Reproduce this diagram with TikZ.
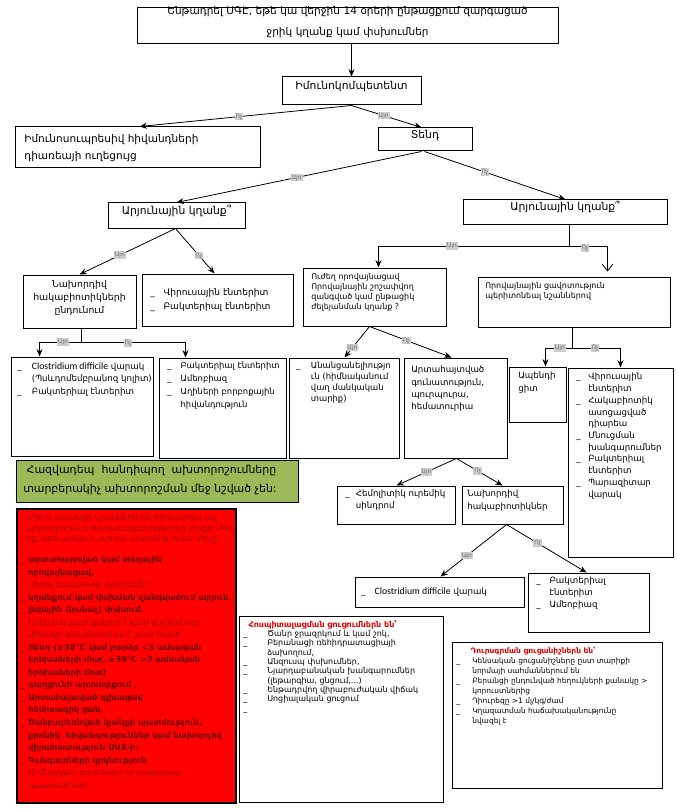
\documentclass[tikz,border=0pt]{standalone}
\usepackage{fontspec}
\setmainfont{DejaVu Sans}
\newfontfamily\latf{Carlito}
\usetikzlibrary{arrows.meta,fit}
\definecolor{rtxt}{HTML}{A00000}
\definecolor{rbold}{HTML}{6E0000}
\definecolor{hred}{HTML}{E00000}
\definecolor{grn}{HTML}{9BBB59}
\definecolor{redbox}{HTML}{FF0000}
\newcommand\fsz[2]{\fontsize{#1}{#2}\selectfont}
\newcommand\bu[1]{\makebox[#1][l]{\_}}
\newcommand\ind[1]{\hspace*{#1}}
\begin{document}
\begin{tikzpicture}[x=0.75pt,y=-0.75pt,
 bx/.style={draw, line width=0.75pt, inner sep=0pt},
 arr/.style={-{Stealth[length=5.5pt,width=4.5pt]}, line width=0.6pt},
 oarr/.style={-{Straight Barb[length=5pt,width=8pt]}, line width=0.6pt},
 lbl/.style={fill=black!20, text=black!55, font=\fsz{4.5}{5}, inner sep=0.7pt},
 txt/.style={anchor=north west, inner sep=0pt, align=left},
]
\useasboundingbox (0,0) rectangle (676,809);

% ---------- boxes ----------
\node[bx, fit={(137,8) (558,44)}, align=center, font=\fsz{7.9}{15.5}] (top)
  {Ենթադրել ՍԳԷ, եթե կա վերջին 14 օրերի ընթացքում զարգացած\\ջրիկ կղանք կամ փսխումներ};
\node[bx, fit={(282,77) (421,105)}, font=\fsz{8.1}{10}] (imm) {Իմունոկոմպետենտ};
\node[bx, fit={(15,127) (260,168)}] (immsup) {};
\node[txt, font=\fsz{7.9}{13}] (immsupt) at (24,134) {Իմունոսուպրեսիվ հիվանդների\\դիառեայի ուղեցույց};
\node[bx, fit={(378,128) (472,151)}, font=\fsz{8.1}{10}] (tend) {Տենդ};
\node[bx, fit={(108,203) (245,228)}, font=\fsz{8.1}{10}] (arjL) {Արյունային կղանք՞};
\node[bx, fit={(463,200) (667,224)}, font=\fsz{8.1}{10}] (arjR) {Արյունային կղանք՞};

\node[bx, fit={(23,275) (136,328)}, align=center, font=\fsz{7}{9.6}] (nax) {Նախորդիվ\\հակաբիոտիկների\\ընդունում};
\node[bx, fit={(142,274) (293,326)}] (vir) {};
\node[txt, anchor=west, font=\fsz{6.8}{10}] (virt) at (150,300) {\bu{10pt}Վիրուսային էնտերիտ\\\bu{10pt}Բակտերիալ էնտերիտ};

\node[bx, fit={(303,268) (446,326)}] (ujeh) {};
\node[txt, font=\fsz{6}{7.6}] (ujeht) at (311,273) {Ուժեղ որովայնացավ\\Որովայնային շոշափվող\\զանգված կամ ընթացիկ\\ժելեյանման կղանք ?};

\node[bx, fit={(478,277) (670,327)}] (orov) {};
\node[txt, font=\fsz{6}{7.4}] (orovt) at (485,282) {Որովայնային ցավոտություն\\պերիտոնեալ նշաններով};

\node[bx, fit={(11,357) (153,456)}] (c1) {};
\node[txt, font=\fsz{6.5}{9.6}] (c1t) at (17,362) {\bu{11pt}{\latf\fontsize{7.3}{9.6}\selectfont Clostridium difficile} վարակ\\\ind{11pt}(Պսևդոմեմբրանոզ կոլիտ)\\\bu{11pt}Բակտերիալ էնտերիտ};

\node[bx, fit={(159,358) (286,458)}] (c2) {};
\node[txt, font=\fsz{6.3}{9.8}] (c2t) at (167,362) {\bu{10pt}Բակտերիալ էնտերիտ\\\bu{10pt}Ամեոբիազ\\\bu{10pt}Աղիների բորբոքային\\\ind{10pt}հիվանդություն};

\node[bx, fit={(289,358) (399,458)}] (anan) {};
\node[txt, font=\fsz{6.3}{8.3}] (anant) at (296,362) {\bu{11pt}Անանցանելիությո\\\ind{11pt}ւն (հիմնականում\\\ind{11pt}վաղ մանկական\\\ind{11pt}տարիք)};

\node[bx, fit={(404,358) (507,458)}] (artah) {};
\node[txt, font=\fsz{6.5}{9.2}] (artaht) at (411,366) {Արտահայտված\\գունատություն,\\պուրպուրա,\\հեմատուրիա};

\node[bx, fit={(509,367) (566,422)}] (apend) {};
\node[txt, font=\fsz{6.5}{9.5}] (apendt) at (518,372) {Ապենդի\\ցիտ};

\node[bx, fit={(568,368) (673,557)}] (virus) {};
\node[txt, font=\fsz{6.5}{8.8}] (virust) at (576,373) {\bu{9pt}Վիրուսային\\\ind{9pt}էնտերիտ\\\bu{9pt}Հակաբիոտիկ\\\ind{9pt}ասոցացված\\\ind{9pt}դիարեա\\\bu{9pt}Մնուցման\\\ind{9pt}խանգարումներ\\\bu{9pt}Բակտերիալ\\\ind{9pt}էնտերիտ\\\bu{9pt}Պարազիտար\\\ind{9pt}վարակ};

\node[bx, fit={(337,486) (455,524)}] (hem) {};
\node[txt, font=\fsz{6.5}{8.6}] (hemt) at (345,490) {\bu{8pt}Հեմոլիտիկ ուրեմիկ\\\ind{8pt}սինդրոմ};

\node[bx, fit={(462,486) (563,524)}] (nax2) {};
\node[txt, font=\fsz{6.5}{9.5}] (nax2t) at (467,490) {Նախորդիվ\\հակաբիոտիկներ};

\node[bx, fit={(355,577) (524,607)}] (cd) {};
\node[txt, anchor=west, font=\fsz{6.5}{9}] (cdt) at (361,592) {\bu{10pt}{\latf\fontsize{7.3}{9}\selectfont Clostridium difficile} վարակ};

\node[bx, fit={(528,573) (649,632)}] (bakt) {};
\node[txt, font=\fsz{6.5}{9}] (baktt) at (536,577) {\bu{10pt}Բակտերիալ\\\ind{10pt}էնտերիտ\\\bu{10pt}Ամեոբիազ};

\node[bx, fill=grn, fit={(16,460) (298,502)}] (green) {};
\node[txt, font=\fsz{8.2}{14}] (greent) at (23,465) {\ Հազվադեպ\ \ հանդիպող\ \ ախտորոշումները\\տարբերակիչ ախտորոշման մեջ նշված չեն:};

\node[bx, fill=redbox, line width=1pt, fit={(17,509) (236,803)}] (red) {};
\node[txt, font=\fsz{6.2}{8}, text=rtxt] (redh) at (26,514) {ՍԳԷ-ի վտանգի նշաններն են (դիտարկել այլ\\ախտորոշման հավանականությունը բացի ՍԳԷ-\\ից, եթե առկա է ստորև նշվածից որևէ մեկը)};
\node[txt, font=\fsz{6.2}{9.4}, text=rbold] (redl) at (20,556) {%
{\bfseries\bu{6pt}արտահայտված կամ տեղային}\\
{\bfseries\ind{6pt}որովայնացավ,}\\
{\color{rtxt}\bu{6pt}Միակ գանգատը փսխումն է}\\
{\bfseries\bu{6pt}կղանքում կամ փսխման զանգվածում արյուն,}\\
{\bfseries\bu{6pt}լեղային (կանաչ) փսխում,}\\
{\color{rtxt}\bu{6pt}Երեխան շատ քնկոտ է կամ ընդհանուր}\\
{\color{rtxt}\ind{6pt}վիճակը գնահատվում է շատ ծանր}\\
{\bfseries\bu{6pt}Տենդ (≥38°C կամ բարձր <3 ամսական}\\
{\bfseries\ind{6pt}երեխաների մոտ, ≥39°C >3 ամսական}\\
{\bfseries\ind{6pt}երեխաների մոտ)}\\
{\bfseries\bu{6pt}գաղցունի արտափքում ,}\\
{\bfseries\bu{6pt}Արտահայտված գլխացավ}\\
{\bfseries\bu{6pt}հեմոռագիկ ցան,}\\
{\bfseries\bu{6pt}Ծանրաբեռնված կյանքի պատմություն,}\\
{\bfseries\ind{6pt}քրոնիկ\ \ հիվանդություններ կամ նախորդիվ}\\
{\bfseries\ind{6pt}վիրահատություն ՍԱՏ-ի:}\\
{\bfseries\bu{6pt}Գանգատների կրկնություն}\\
{\color{rtxt}\bu{6pt}Հիմնական բուժմանը ոչ բավարար}\\
{\color{rtxt}\ind{6pt}պատասխան}};

\node[bx, fit={(239,616) (443,802)}] (hosp) {};
\node[txt, font=\fsz{6}{7}] (hospt) at (243,620) {\ind{4pt}\textcolor{hred}{\bfseries Հոսպիտալացման ցուցումներն են՝}\\
\bu{18pt}Ծանր ջրազրկում և կամ շոկ,\\
\bu{18pt}Բերանացի ռեհիդրատացիայի\\
\ind{18pt}ձախողում,\\
\bu{18pt}Անզուսպ փսխումներ,\\
\bu{18pt}Նյարդաբանական խանգարումներ\\
\ind{18pt}(լեթարգիա, ցնցում,...)\\
\bu{18pt}Ենթադրվող վիրաբուժական վիճակ\\
\bu{18pt}Սոցիալական ցուցում\\
\bu{18pt}};

\node[bx, fit={(452,642) (662,788)}] (dur) {};
\node[txt, font=\fsz{5.6}{7.5}] (durt) at (456,647) {\ind{11pt}\textcolor{hred}{\bfseries Դուրսգրման ցուցանիշներն են՝}\\
\bu{12pt}Կենսական ցուցանիշները ըստ տարիքի\\
\ind{12pt}նորմայի սահմաններում են\\
\bu{12pt}Բերանցի ընդունված հեղուկների քանակը >\\
\ind{12pt}կորուստներից\\
\bu{12pt}Դիուրեզը >1 մլ/կգ/ժամ\\
\bu{12pt}Կղազատման հաճախականությունը\\
\ind{12pt}նվազել է};

% ---------- connectors ----------
\draw[arr] (top.south -| imm.north) -- (imm.north);
\draw[arr] (imm.south) -- node[lbl, pos=0.53] (l1) {Ոչ} ([shift={(125,0)}]immsup.north west);
\draw[arr] (imm.south) -- node[lbl, pos=0.46] (l2) {Այո} ([shift={(44,0)}]tend.north west);
\draw[arr] ([shift={(44,0)}]tend.south west) -- node[lbl, pos=0.51] (l3) {Այո} ([shift={(69,0)}]arjL.north west);
\draw[arr] ([shift={(47,0)}]tend.south west) -- node[lbl, pos=0.43] (l4) {Ոչ} ([shift={(103,0)}]arjR.north west);
\draw[arr] ([shift={(68,0)}]arjL.south west) -- node[lbl, pos=0.58] (l5) {Այո} ([shift={(57,0)}]nax.north west);
\draw[arr] ([shift={(68,0)}]arjL.south west) -- node[lbl, pos=0.6] (l6) {Ոչ} ([shift={(73,0)}]vir.north west);

\draw[line width=0.9pt] ([shift={(107,0)}]arjR.south west) -- ++(0,22) coordinate (jR);
\draw[arr] (jR) -| ([shift={(76,0)}]ujeh.north west);
\draw[oarr] (jR) -| ([shift={(130,-5)}]orov.north west);
\node[lbl] (l7) at (452,246) {Այո};
\node[lbl] (l8) at (585,248) {Ոչ};

\draw[line width=1.4pt] ([shift={(59,0)}]nax.south west) -- ++(0,14) coordinate (jN);
\draw[arr] (jN) -| ([shift={(29,0)}]c1.north west);
\draw[arr] (jN) -| ([shift={(27,0)}]c2.north west);
\node[lbl] (l9) at (63,342) {Այո};
\node[lbl] (l10) at (128,343) {Ոչ};

\draw[arr] ([shift={(67,0)}]ujeh.south west) -- node[lbl, pos=0.68] (l11) {Այո} ([shift={(56,0)}]anan.north west);
\draw[arr] ([shift={(67,0)}]ujeh.south west) -- node[lbl, pos=0.45] (l12) {Ոչ} ([shift={(48,0)}]artah.north west);

\draw ([shift={(95,0)}]orov.south west) -- ++(0,21) coordinate (jO);
\draw[arr] (jO) -| ([shift={(37,0)}]apend.north west);
\draw[arr] (jO) -| ([shift={(53,0)}]virus.north west);
\node[lbl] (l13) at (560,348) {Այո};
\node[lbl] (l14) at (595,348) {Ոչ};

\draw[arr] ([shift={(53,0)}]artah.south west) -- node[lbl, pos=0.5] (l15) {Այո} ([shift={(60,0)}]hem.north west);
\draw[arr] ([shift={(53,0)}]artah.south west) -- node[lbl, pos=0.46] (l16) {Ոչ} ([shift={(41,0)}]nax2.north west);

\draw[arr] ([shift={(45,0)}]nax2.south west) -- node[lbl, pos=0.6] (l17) {Այո} ([shift={(86,0)}]cd.north west);
\draw[arr] ([shift={(45,0)}]nax2.south west) -- node[lbl, pos=0.39] (l18) {Ոչ} ([shift={(59,0)}]bakt.north west);
\end{tikzpicture}
\end{document}
